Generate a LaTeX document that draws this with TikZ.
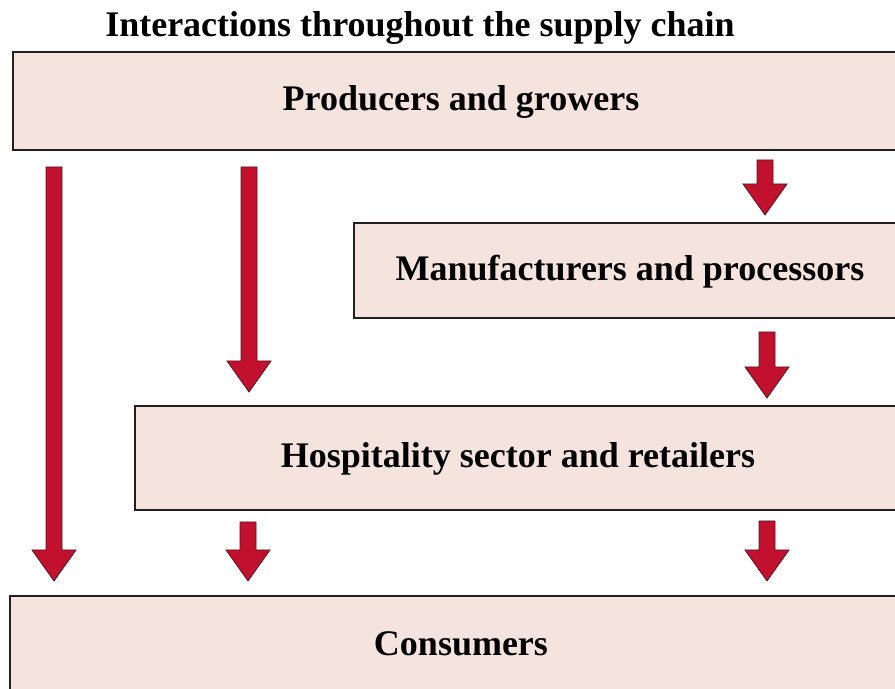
\documentclass[tikz,border=0pt]{standalone}
\usepackage{fontspec}
\setmainfont{Liberation Serif}
\usetikzlibrary{calc}

\definecolor{boxfill}{HTML}{F5E3DE}
\definecolor{boxedge}{HTML}{231F20}
\definecolor{arrowred}{HTML}{C2102F}
\definecolor{arrowedge}{HTML}{5A1520}

\tikzset{
  stagebox/.style={draw=boxedge, fill=boxfill, line width=1pt, inner sep=0pt,
    text height=13pt, text depth=3pt,
    font=\bfseries\fontsize{18}{21}\selectfont},
  titletext/.style={font=\bfseries\fontsize{18}{21}\selectfont}
}

% freccia piena da (#1) a (#2)
\newcommand{\supplyarrow}[2]{%
  \fill[arrowred, draw=arrowedge, line width=0.4pt] let \p1=(#1), \p2=(#2) in
    (\x1-4pt,\y1) -- (\x1+4pt,\y1) -- (\x1+4pt,\y2+15.5pt) -- (\x1+11pt,\y2+15.5pt)
    -- (\x1,\y2) -- (\x1-11pt,\y2+15.5pt) -- (\x1-4pt,\y2+15.5pt) -- cycle;}

\begin{document}
\begin{tikzpicture}[x=0.5pt, y=0.5pt]
    \useasboundingbox (0,0) rectangle (895,689);
    \clip (0,0) rectangle (895,689);

    % titolo
    \node[titletext, anchor=base] (title) at (420,652) {Interactions throughout the supply chain};

    % i blocchi della catena
    \node[stagebox, minimum width=448pt, minimum height=49pt] (prod) at (461,588) {Producers and growers};
    \node[stagebox, minimum width=276pt, minimum height=47.5pt] (manuf) at (630,418.5) {Manufacturers and processors};
    \node[stagebox, minimum width=383pt, minimum height=52pt] (hosp) at (518,231) {Hospitality sector and retailers};
    \node[stagebox, minimum width=451pt, minimum height=50pt] (cons) at (461,43) {Consumers};

    % estremi delle frecce
    \path (prod.south -| 54,0) ++(0,-16) coordinate (a1s);
    \path (cons.north -| 54,0) ++(0,14) coordinate (a1e);
    \path (prod.south -| 249,0) ++(0,-16) coordinate (a2s);
    \path (hosp.north -| 249,0) ++(0,13) coordinate (a2e);
    \path (prod.south -| 765,0) ++(0,-9) coordinate (a3s);
    \path (manuf.north -| 765,0) ++(0,7) coordinate (a3e);
    \path (manuf.south -| 767,0) ++(0,-13) coordinate (a4s);
    \path (hosp.north -| 767,0) ++(0,7) coordinate (a4e);
    \path (hosp.south -| 248,0) ++(0,-11) coordinate (a5s);
    \path (cons.north -| 248,0) ++(0,14) coordinate (a5e);
    \path (hosp.south -| 767,0) ++(0,-10) coordinate (a6s);
    \path (cons.north -| 767,0) ++(0,14) coordinate (a6e);

    % frecce
    \supplyarrow{a1s}{a1e}
    \supplyarrow{a2s}{a2e}
    \supplyarrow{a3s}{a3e}
    \supplyarrow{a4s}{a4e}
    \supplyarrow{a5s}{a5e}
    \supplyarrow{a6s}{a6e}
\end{tikzpicture}
\end{document}
